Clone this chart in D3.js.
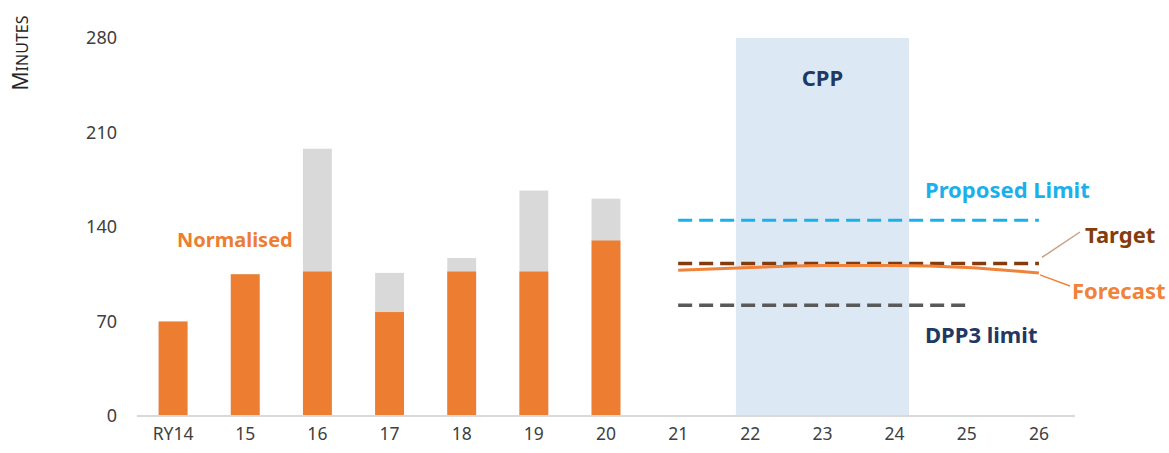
<!DOCTYPE html>
<html>
<head>
<meta charset="utf-8">
<script src="https://d3js.org/d3.v7.min.js"></script>
<style>
  body { margin: 0; background: #fff; }
  svg { font-family: "Noto Sans", "Open Sans", sans-serif; }
</style>
</head>
<body>
<svg width="1169" height="453"></svg>
<script>
// chart data
var years = ["RY14", "15", "16", "17", "18", "19", "20", "21", "22", "23", "24", "25", "26"];
var normalised = [70, 105, 107, 77, 107, 107, 130];
var actual = [70, 105, 198, 106, 117, 167, 161];
var forecastYears = ["21", "22", "23", "24", "25", "26"];
var forecast = [108, 110, 111.5, 111.5, 110, 106];
var proposedLimit = 145;
var target = 113;
var dpp3Limit = 82;
var dpp3Years = ["21", "25"];
var cppYears = ["22", "24"];
var yTicks = [0, 70, 140, 210, 280];

var svg = d3.select("svg");

var x = d3.scaleBand().domain(years).range([137, 1075]).paddingInner(0.6).paddingOuter(0.3);
var y = d3.scaleLinear().domain([0, 280]).range([416, 38]);
var cx = function(d) { return x(d) + x.bandwidth() / 2; };

// CPP period shading
svg.append("rect")
  .attr("x", x(cppYears[0]))
  .attr("width", x(cppYears[1]) + x.bandwidth() - x(cppYears[0]))
  .attr("y", y(280))
  .attr("height", y(0) - y(280))
  .attr("fill", "#dde8f5");

// bars: grey actual behind, orange normalised in front
svg.selectAll(".actual")
  .data(actual)
  .enter().append("rect")
  .attr("x", function(d, i) { return x(years[i]); })
  .attr("width", x.bandwidth())
  .attr("y", function(d) { return y(d); })
  .attr("height", function(d) { return y(0) - y(d); })
  .attr("fill", "#d9d9d9");

svg.selectAll(".norm")
  .data(normalised)
  .enter().append("rect")
  .attr("x", function(d, i) { return x(years[i]); })
  .attr("width", x.bandwidth())
  .attr("y", function(d) { return y(d); })
  .attr("height", function(d) { return y(0) - y(d); })
  .attr("fill", "#ed7d31");

// baseline
svg.append("line")
  .attr("x1", 137).attr("x2", 1075)
  .attr("y1", y(0)).attr("y2", y(0))
  .attr("stroke", "#d9d9d9").attr("stroke-width", 2);

// y axis labels
var yAxis = d3.axisLeft(y).tickValues(yTicks).tickSize(0).tickPadding(0);
var gy = svg.append("g").attr("transform", "translate(117,0)").call(yAxis);
gy.select(".domain").remove();
gy.selectAll("text").attr("fill", "#404040").attr("font-size", 18).attr("font-family", "Noto Sans");

// x axis labels
var xAxis = d3.axisBottom(x).tickSize(0).tickPadding(0);
var gx = svg.append("g").attr("transform", "translate(0,428)").call(xAxis);
gx.select(".domain").remove();
gx.selectAll("text").attr("fill", "#404040").attr("font-size", 17.5).attr("font-family", "Noto Sans");

// horizontal dashed limits
function hline(x1, x2, v, color, w) {
  svg.append("line")
    .attr("x1", x1).attr("x2", x2)
    .attr("y1", y(v)).attr("y2", y(v))
    .attr("stroke", color).attr("stroke-width", w)
    .attr("stroke-dasharray", "14,7");
}
hline(cx("21"), cx("26"), proposedLimit, "#1cb0ea", 3);
hline(cx(dpp3Years[0]), cx(dpp3Years[1]), dpp3Limit, "#595959", 3.5);
hline(cx("21"), cx("26"), target, "#843c0c", 3.5);

// forecast curve
var line = d3.line()
  .x(function(d, i) { return cx(forecastYears[i]); })
  .y(function(d) { return y(d); })
  .curve(d3.curveMonotoneX);
svg.append("path")
  .datum(forecast)
  .attr("d", line)
  .attr("fill", "none")
  .attr("stroke", "#f0823a")
  .attr("stroke-width", 3);

// leader lines
svg.append("line")
  .attr("x1", cx("26") + 3).attr("y1", y(target) - 6)
  .attr("x2", 1080).attr("y2", 232)
  .attr("stroke", "#c8a083").attr("stroke-width", 1.5);
svg.append("line")
  .attr("x1", cx("26") + 1).attr("y1", y(forecast[5]) + 2)
  .attr("x2", 1070).attr("y2", 286)
  .attr("stroke", "#f0823a").attr("stroke-width", 1.5);

// annotations
function label(tx, ty, txt, color, size, anchor) {
  svg.append("text")
    .attr("x", tx).attr("y", ty)
    .attr("text-anchor", anchor || "start")
    .attr("fill", color)
    .attr("font-size", size)
    .attr("font-weight", "bold")
    .attr("font-family", "Noto Sans")
    .text(txt);
}
label(cx("23"), 86, "CPP", "#1f3864", 22, "middle");
label(925, 198, "Proposed Limit", "#1cb0ea", 22);
label(1085, 243, "Target", "#843c0c", 22);
label(1072, 299, "Forecast", "#f0823a", 22);
label(925, 343, "DPP3 limit", "#1f3864", 22);
label(177, 247, "Normalised", "#ed7d31", 20);

// y axis title in small caps
var yt = svg.append("text")
  .attr("transform", "translate(28,53) rotate(-90)")
  .attr("text-anchor", "middle")
  .attr("fill", "#262626")
  .attr("font-family", "Noto Sans");
yt.append("tspan").attr("font-size", 21).text("M");
yt.append("tspan").attr("font-size", 16).text("INUTES");
</script>
</body>
</html>
